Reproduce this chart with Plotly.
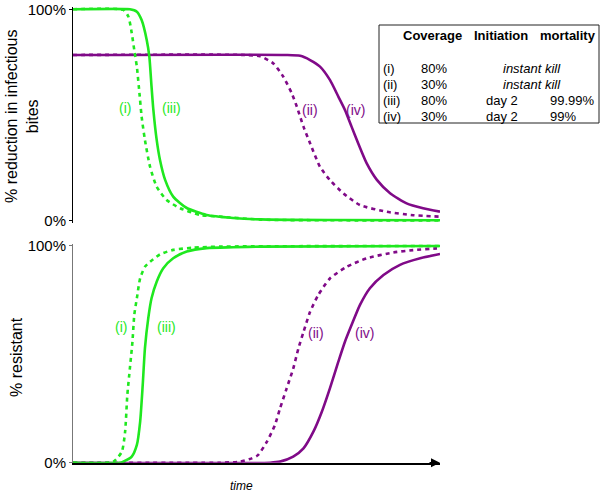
import plotly.graph_objects as go
from plotly.subplots import make_subplots

# ---------------- data ----------------
# Top panel: % reduction in infectious bites
t_top_i = [0, 13.7, 15.1, 16.0, 16.7, 17.4, 18.1, 18.7, 19.6, 21.0, 22.8, 25.5, 29.2, 34.6, 40.1, 51.0, 70, 100]
y_top_i = [100, 99.7, 96.5, 88.8, 80.7, 72.8, 60.4, 49.2, 38.2, 25.5, 16.1, 9.8, 5.9, 2.7, 1.9, 0.5, 0.2, 0.1]

t_top_iii = [0, 15.5, 17.4, 18.7, 20.1, 20.8, 21.4, 21.9, 22.8, 23.7, 25.1, 27.3, 31.0, 36.4, 43.6, 51.0, 70, 100]
y_top_iii = [100, 100, 98.9, 94.9, 85.4, 77.6, 63.4, 52.4, 38.2, 28.7, 19.3, 11.4, 6.0, 2.7, 1.3, 0.6, 0.3, 0.2]

t_top_ii = [0, 46.9, 51.0, 54.6, 57.3, 59.6, 61.0, 62.8, 64.6, 67.3, 70.0, 73.7, 78.2, 85.5, 92.7, 100]
y_top_ii = [78.4, 78.4, 77.8, 74.4, 68.1, 60.3, 53.9, 44.5, 36.6, 25.5, 19.2, 12.9, 7.4, 4.2, 2.6, 1.9]

t_top_iv = [0, 58.0, 61.9, 64.6, 67.3, 70.0, 72.3, 74.1, 75.9, 77.7, 80.0, 82.8, 86.4, 90.9, 95.4, 100]
y_top_iv = [78.4, 78.4, 78.0, 76.0, 72.9, 66.6, 58.7, 52.4, 44.5, 36.6, 27.2, 19.3, 13.0, 8.2, 5.9, 4.3]

# Bottom panel: % resistant
t_bot_i = [0, 11.0, 13.3, 14.2, 14.8, 15.5, 16.2, 16.7, 17.4, 18.3, 19.6, 21.0, 23.7, 27.3, 32.8, 40.1, 100]
y_bot_i = [0, 0.5, 5.1, 14.3, 31.2, 43.6, 55.8, 68.2, 75.9, 85.1, 90.4, 92.7, 96.1, 98.2, 99.2, 99.7, 100]

t_bot_iii = [0, 12.8, 13.7, 16.0, 17.4, 18.3, 19.0, 19.6, 20.5, 21.4, 22.8, 24.6, 27.3, 31.0, 36.4, 43.6, 51.0, 100]
y_bot_iii = [0, 0, 0.5, 2.8, 8.2, 19.0, 35.9, 52.8, 66.6, 75.9, 83.5, 89.7, 94.3, 97.4, 99.0, 99.4, 99.7, 100]

t_bot_ii = [0, 40.1, 45.5, 48.7, 50.4, 52.8, 55.0, 56.4, 58.2, 60.0, 61.4, 62.8, 64.6, 66.8, 70.0, 74.6, 80.0, 87.3, 92.7, 99.1, 100]
y_bot_ii = [0, 0, 0.5, 2.0, 3.5, 9.6, 17.3, 25.0, 34.2, 43.4, 52.6, 60.3, 69.6, 77.3, 85.0, 90.4, 94.3, 97.0, 98.1, 98.9, 99.0]

t_bot_iv = [0, 53.7, 56.4, 60.0, 62.8, 65.5, 67.8, 70.0, 72.3, 74.1, 75.9, 78.2, 80.9, 84.6, 89.1, 94.6, 100]
y_bot_iv = [0, 0, 0.5, 2.8, 6.6, 14.3, 23.5, 34.3, 46.6, 55.8, 63.5, 72.8, 80.5, 86.6, 91.3, 94.3, 96.3]

y_tick_vals = [0, 100]
y_tick_text = ["0%", "100%"]

# legend table
tbl_labels = ["(i)", "(ii)", "(iii)", "(iv)"]
tbl_coverage = ["80%", "30%", "80%", "30%"]
tbl_initiation = ["instant kill", "instant kill", "day 2", "day 2"]
tbl_mortality = ["", "", "99.99%", "99%"]
tbl_headers = ["Coverage", "Initiation", "mortality"]

# ---------------- styling ----------------
GREEN = "#1fe81f"
PURPLE = "#800a88"
FONT = "Liberation Sans, Arial, sans-serif"
W, H = 600, 494
ML, MT = 73, 0
PW = 367
MR = W - ML - PW
MB = 31
PH = H - MT - MB


def px_x(px):
    """screen pixel x -> paper"""
    return (px - ML) / PW


def px_y(py):
    """screen pixel y -> paper"""
    return (H - MB - py) / PH


fig = make_subplots(rows=2, cols=1, shared_xaxes=False, vertical_spacing=0.05)

LW = 2.6
DASH = "4px,4px"
SM = 0.6
line_kw = dict(mode="lines", line_shape="spline", hoverinfo="skip", showlegend=False)

fig.add_trace(go.Scatter(x=t_top_ii, y=y_top_ii, line=dict(color=PURPLE, width=LW, dash=DASH, smoothing=SM), **line_kw), row=1, col=1)
fig.add_trace(go.Scatter(x=t_top_iv, y=y_top_iv, line=dict(color=PURPLE, width=LW, smoothing=SM), **line_kw), row=1, col=1)
fig.add_trace(go.Scatter(x=t_top_i, y=y_top_i, line=dict(color=GREEN, width=LW, dash=DASH, smoothing=SM), **line_kw), row=1, col=1)
fig.add_trace(go.Scatter(x=t_top_iii, y=y_top_iii, line=dict(color=GREEN, width=LW, smoothing=SM), **line_kw), row=1, col=1)

fig.add_trace(go.Scatter(x=t_bot_ii, y=y_bot_ii, line=dict(color=PURPLE, width=LW, dash=DASH, smoothing=SM), **line_kw), row=2, col=1)
fig.add_trace(go.Scatter(x=t_bot_iv, y=y_bot_iv, line=dict(color=PURPLE, width=LW, smoothing=SM), **line_kw), row=2, col=1)
fig.add_trace(go.Scatter(x=t_bot_i, y=y_bot_i, line=dict(color=GREEN, width=LW, dash=DASH, smoothing=SM), **line_kw), row=2, col=1)
fig.add_trace(go.Scatter(x=t_bot_iii, y=y_bot_iii, line=dict(color=GREEN, width=LW, smoothing=SM), **line_kw), row=2, col=1)

top_dom = [px_y(222.8), min(1.0, px_y(7.2))]
bot_dom = [max(0.0, px_y(462.7)), px_y(243.8)]

fig.update_xaxes(range=[0, 100], domain=[0, 1], visible=False, automargin=False, row=1, col=1)
fig.update_xaxes(range=[0, 100], domain=[0, 1], showline=True, linecolor="black", linewidth=1.5,
                 showticklabels=False, ticks="", showgrid=False, zeroline=False, automargin=False,
                 row=2, col=1)
fig.update_yaxes(range=[-1, 101], domain=top_dom, tickvals=y_tick_vals, ticktext=y_tick_text,
                 showline=True, linecolor="black", linewidth=1, ticks="outside", ticklen=3,
                 tickcolor="black", showgrid=False, zeroline=False, automargin=False,
                 tickfont=dict(size=15, color="black", family=FONT), row=1, col=1)
fig.update_yaxes(range=[0, 101], domain=bot_dom, tickvals=y_tick_vals, ticktext=y_tick_text,
                 showline=True, linecolor="#777777", linewidth=1, ticks="outside", ticklen=3,
                 tickcolor="#777777", showgrid=False, zeroline=False, automargin=False,
                 tickfont=dict(size=15, color="black", family=FONT), row=2, col=1)

ann = []
# axis titles
ann.append(dict(text="% reduction in infectious<br>bites", xref="paper", yref="paper",
                x=px_x(22), y=px_y(117), xanchor="center", yanchor="middle", textangle=-90,
                showarrow=False, font=dict(size=16, color="black", family=FONT)))
ann.append(dict(text="% resistant", xref="paper", yref="paper",
                x=px_x(16), y=px_y(357), xanchor="center", yanchor="middle", textangle=-90,
                showarrow=False, font=dict(size=16, color="black", family=FONT)))
ann.append(dict(text="<i>time</i>", xref="paper", yref="paper", x=px_x(241), y=px_y(486),
                xanchor="center", yanchor="middle", showarrow=False,
                font=dict(size=12, color="black", family=FONT)))
# x-axis arrow
ann.append(dict(text="", xref="x2", yref="y2", x=100, y=0, ax=-12, ay=0, axref="pixel", ayref="pixel",
                showarrow=True, arrowhead=2, arrowsize=1.2, arrowwidth=1.5, arrowcolor="black"))

# curve labels
lab_font_g = dict(size=14, color=GREEN, family=FONT)
lab_font_p = dict(size=14, color=PURPLE, family=FONT)
for txt, xx, yy, f, xr, yr in [
    ("(i)", 14.3, 53.3, lab_font_g, "x", "y"),
    ("(iii)", 26.8, 53.3, lab_font_g, "x", "y"),
    ("(ii)", 64.6, 52.4, lab_font_p, "x", "y"),
    ("(iv)", 77.1, 52.4, lab_font_p, "x", "y"),
    ("(i)", 13.1, 62.8, lab_font_g, "x2", "y2"),
    ("(iii)", 25.4, 62.8, lab_font_g, "x2", "y2"),
    ("(ii)", 66.2, 59.7, lab_font_p, "x2", "y2"),
    ("(iv)", 79.5, 59.7, lab_font_p, "x2", "y2"),
]:
    ann.append(dict(text=txt, xref=xr, yref=yr, x=xx, y=yy, xanchor="center", yanchor="middle",
                    showarrow=False, font=f))

# table
tfont = dict(size=13, color="black", family=FONT)
head_x = [401, 471.7, 538]
for h, hx in zip(tbl_headers, head_x):
    ann.append(dict(text=f"<b>{h}</b>", xref="paper", yref="paper", x=px_x(hx), y=px_y(35),
                    xanchor="left", yanchor="middle", showarrow=False, font=tfont))
row_y = [68.3, 84.3, 100.5, 116]
for lab, cov, ini, mort, ry in zip(tbl_labels, tbl_coverage, tbl_initiation, tbl_mortality, row_y):
    ann.append(dict(text=lab, xref="paper", yref="paper", x=px_x(381), y=px_y(ry),
                    xanchor="left", yanchor="middle", showarrow=False, font=tfont))
    ann.append(dict(text=cov, xref="paper", yref="paper", x=px_x(419.3), y=px_y(ry),
                    xanchor="left", yanchor="middle", showarrow=False, font=tfont))
    if mort == "":
        ann.append(dict(text=f"<i>{ini}</i>", xref="paper", yref="paper", x=px_x(532), y=px_y(ry),
                        xanchor="center", yanchor="middle", showarrow=False, font=tfont))
    else:
        ann.append(dict(text=ini, xref="paper", yref="paper", x=px_x(502), y=px_y(ry),
                        xanchor="center", yanchor="middle", showarrow=False, font=tfont))
        ann.append(dict(text=mort, xref="paper", yref="paper", x=px_x(548), y=px_y(ry),
                        xanchor="left", yanchor="middle", showarrow=False, font=tfont))

fig.add_shape(type="rect", xref="paper", yref="paper", x0=px_x(379), x1=px_x(599),
              y0=px_y(123), y1=px_y(25), line=dict(color="#222222", width=1))

fig.update_layout(width=W, height=H, margin=dict(l=ML, r=MR, t=MT, b=MB, pad=0),
                  plot_bgcolor="white", paper_bgcolor="white", annotations=ann,
                  font=dict(family=FONT, color="black"))

fig.write_html("out.html", config={"displayModeBar": False},
               post_script="document.body.style.margin='0';")
